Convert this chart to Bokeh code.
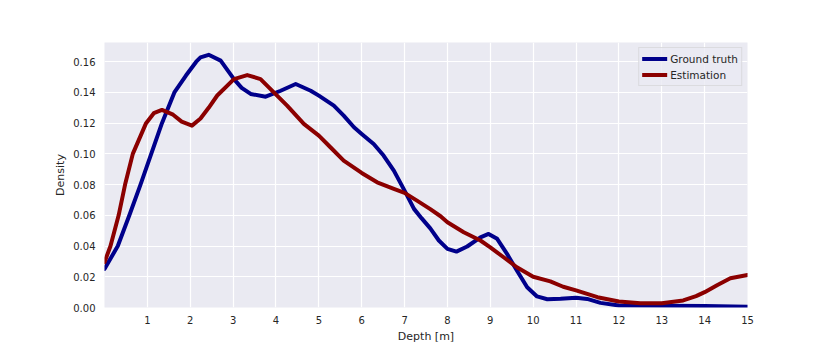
from bokeh.plotting import figure
from bokeh.models import Range1d, FixedTicker, NumeralTickFormatter
from bokeh.embed import file_html
from bokeh.resources import INLINE

# Ground truth KDE
gt_x = [0, 0.31, 0.58, 0.84, 1.09, 1.34, 1.63, 1.9, 2.14, 2.24, 2.43, 2.71, 3.02, 3.2, 3.41, 3.76, 4.11, 4.46,
        4.81, 5.0, 5.35, 5.58, 5.82, 6.0, 6.28, 6.51, 6.75, 7.0, 7.22, 7.4, 7.6, 7.8, 8.0, 8.21, 8.46, 8.77,
        8.96, 9.16, 9.39, 9.62, 9.86, 10.09, 10.33, 10.64, 11.0, 11.26, 11.57, 12.0, 13.0, 14.0, 15.0]
gt_y = [0.0251, 0.040, 0.060, 0.080, 0.100, 0.120, 0.140, 0.151, 0.160, 0.1628, 0.1645, 0.1607, 0.1487, 0.143,
        0.139, 0.1372, 0.1411, 0.1455, 0.1411, 0.1379, 0.1314, 0.1249, 0.1173, 0.113, 0.1064, 0.0989, 0.0891,
        0.0761, 0.0642, 0.058, 0.0515, 0.0436, 0.0382, 0.0364, 0.0397, 0.0457, 0.0479, 0.0447, 0.0349, 0.0241,
        0.0132, 0.0072, 0.0054, 0.0057, 0.0064, 0.0056, 0.003, 0.0013, 0.0012, 0.0010, 0.0005]

# Estimation KDE
est_x = [0, 0.14, 0.33, 0.48, 0.66, 0.97, 1.15, 1.34, 1.6, 1.8, 2.04, 2.24, 2.43, 2.63, 3.02, 3.33, 3.64, 3.95,
         4.26, 4.65, 5.0, 5.27, 5.58, 6.0, 6.36, 6.75, 7.0, 7.29, 7.6, 7.84, 8.0, 8.38, 8.77, 9.0, 9.31, 9.62,
         10.0, 10.4, 10.7, 11.0, 11.5, 12.0, 12.5, 13.0, 13.5, 13.8, 14.0, 14.3, 14.6, 15.0]
est_y = [0.0295, 0.040, 0.060, 0.080, 0.100, 0.120, 0.1265, 0.1286, 0.1255, 0.121, 0.1184, 0.123, 0.130, 0.138,
         0.1487, 0.1513, 0.1487, 0.140, 0.1314, 0.1195, 0.1119, 0.1043, 0.0956, 0.0876, 0.0815, 0.0772, 0.0746,
         0.0696, 0.064, 0.0594, 0.0555, 0.049, 0.0436, 0.0392, 0.0327, 0.0262, 0.0200, 0.0170, 0.0135, 0.0111,
         0.0067, 0.0039, 0.0028, 0.0028, 0.0046, 0.0074, 0.010, 0.0147, 0.019, 0.0212]

x_ticks = list(range(1, 16))
y_ticks = [0.0, 0.02, 0.04, 0.06, 0.08, 0.10, 0.12, 0.14, 0.16]

FONT = "DejaVu Sans"
TXT = "#262626"

p = figure(width=830, height=346, output_backend="svg", toolbar_location=None,
           x_range=Range1d(0, 15), y_range=Range1d(0, 0.1725),
           min_border_left=104, min_border_right=83, min_border_top=42, min_border_bottom=39)

p.background_fill_color = "#EAEAF2"
p.border_fill_color = "white"
p.outline_line_color = None

p.line(gt_x, gt_y, line_color="#00008B", line_width=4, line_join="round", line_cap="round",
       legend_label="Ground truth")
p.line(est_x, est_y, line_color="#8B0000", line_width=4, line_join="round", line_cap="round",
       legend_label="Estimation")

for ax in (p.xaxis, p.yaxis):
    ax.axis_line_color = None
    ax.major_tick_line_color = None
    ax.minor_tick_line_color = None
    ax.major_tick_out = 0
    ax.major_tick_in = 0
    ax.minor_tick_out = 0
    ax.minor_tick_in = 0
    ax.major_label_text_font = FONT
    ax.major_label_text_font_size = "10px"
    ax.major_label_text_color = TXT
    ax.axis_label_text_font = FONT
    ax.axis_label_text_font_size = "11px"
    ax.axis_label_text_font_style = "normal"
    ax.axis_label_text_color = TXT
    ax.axis_label_standoff = 3

p.xaxis.major_label_standoff = 8
p.yaxis.major_label_standoff = 9
p.xaxis.ticker = FixedTicker(ticks=x_ticks)
p.yaxis.ticker = FixedTicker(ticks=y_ticks)
p.yaxis.formatter = NumeralTickFormatter(format="0.00")
p.xaxis.axis_label = "Depth [m]"
p.yaxis.axis_label = "Density"

p.xgrid.grid_line_color = "white"
p.ygrid.grid_line_color = "white"
p.xgrid.grid_line_width = 1.2
p.ygrid.grid_line_width = 1.2

lg = p.legend[0]
lg.location = "top_right"
lg.margin = 5
lg.padding = 3
lg.spacing = 1
lg.glyph_width = 25
lg.glyph_height = 15
lg.label_height = 15
lg.label_standoff = 3
lg.label_text_font = FONT
lg.label_text_font_size = "10.5px"
lg.label_text_color = TXT
lg.background_fill_color = "#EAEAF2"
lg.background_fill_alpha = 0.8
lg.border_line_color = "#CCCCCC"
lg.border_line_width = 1

open("out.html", "w").write(file_html(p, INLINE))
